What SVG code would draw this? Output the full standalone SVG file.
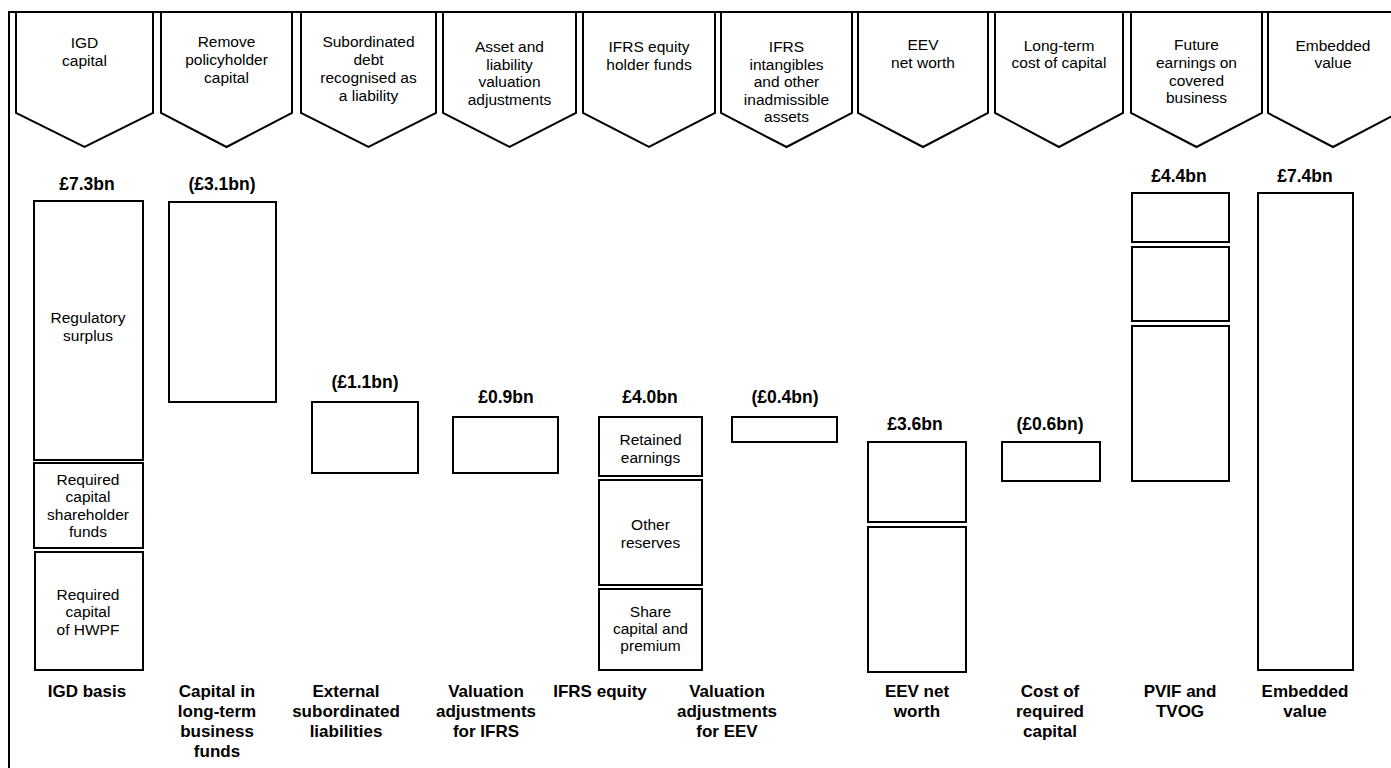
<svg xmlns="http://www.w3.org/2000/svg" width="1391" height="768" viewBox="0 0 1391 768">
<style>
.frame{fill:none;stroke:#000;stroke-width:2}
.chev{fill:#fff;stroke:#000;stroke-width:2;stroke-linejoin:miter}
.box{fill:#fff;stroke:#000;stroke-width:2}
.ct{font-family:"Liberation Sans",Arial,sans-serif;font-size:15.5px;fill:#000;text-anchor:middle}
.bt{font-family:"Liberation Sans",Arial,sans-serif;font-size:15.5px;fill:#000;text-anchor:middle}
.val{font-family:"Liberation Sans",Arial,sans-serif;font-size:17.5px;font-weight:bold;fill:#000;text-anchor:middle}
.lab{font-family:"Liberation Sans",Arial,sans-serif;font-size:17px;font-weight:bold;fill:#000;text-anchor:middle}
</style>
<rect width="1391" height="768" fill="#fff"/>
<g id="frame">
<path class="frame" d="M9,768 V12 H1391"/>
</g>
<g id="headers">
<g id="h1"><path class="chev" d="M16,12 H153 V113 L84.5,147 L16,113 Z"/>
<text class="ct" x="84.5" y="48">IGD</text><text class="ct" x="84.5" y="66">capital</text></g>
<g id="h2"><path class="chev" d="M161,12 H292 V113 L226.5,147 L161,113 Z"/>
<text class="ct" x="226.5" y="47">Remove</text><text class="ct" x="226.5" y="65">policyholder</text><text class="ct" x="226.5" y="83">capital</text></g>
<g id="h3"><path class="chev" d="M301,12 H436 V113 L368.5,147 L301,113 Z"/>
<text class="ct" x="368.5" y="47">Subordinated</text><text class="ct" x="368.5" y="65">debt</text><text class="ct" x="368.5" y="83">recognised as</text><text class="ct" x="368.5" y="101">a liability</text></g>
<g id="h4"><path class="chev" d="M443,12 H576 V113 L509.5,147 L443,113 Z"/>
<text class="ct" x="509.5" y="52">Asset and</text><text class="ct" x="509.5" y="69.5">liability</text><text class="ct" x="509.5" y="87">valuation</text><text class="ct" x="509.5" y="104.5">adjustments</text></g>
<g id="h5"><path class="chev" d="M583,12 H715 V113 L649,147 L583,113 Z"/>
<text class="ct" x="649" y="52">IFRS equity</text><text class="ct" x="649" y="69.5">holder funds</text></g>
<g id="h6"><path class="chev" d="M721,12 H852 V113 L786.5,147 L721,113 Z"/>
<text class="ct" x="786.5" y="52">IFRS</text><text class="ct" x="786.5" y="69.5">intangibles</text><text class="ct" x="786.5" y="87">and other</text><text class="ct" x="786.5" y="104.5">inadmissible</text><text class="ct" x="786.5" y="122">assets</text></g>
<g id="h7"><path class="chev" d="M858,12 H988 V113 L923,147 L858,113 Z"/>
<text class="ct" x="923" y="50">EEV</text><text class="ct" x="923" y="68">net worth</text></g>
<g id="h8"><path class="chev" d="M995,12 H1123 V113 L1059,147 L995,113 Z"/>
<text class="ct" x="1059" y="51">Long-term</text><text class="ct" x="1059" y="68">cost of capital</text></g>
<g id="h9"><path class="chev" d="M1131,12 H1262 V113 L1196.5,147 L1131,113 Z"/>
<text class="ct" x="1196.5" y="50">Future</text><text class="ct" x="1196.5" y="68">earnings on</text><text class="ct" x="1196.5" y="86">covered</text><text class="ct" x="1196.5" y="103">business</text></g>
<g id="h10"><path class="chev" d="M1268,12 H1398 V113 L1333,147 L1268,113 Z"/>
<text class="ct" x="1333" y="51">Embedded</text><text class="ct" x="1333" y="68">value</text></g>
</g>
<g id="connectors"></g>
<g id="igd">
<text class="val" x="87" y="190">£7.3bn</text>
<rect class="box" x="34" y="201" width="109" height="259"/>
<text class="bt" x="88" y="323">Regulatory</text><text class="bt" x="88" y="340.5">surplus</text>
<rect class="box" x="34" y="463" width="109" height="85"/>
<text class="bt" x="88" y="484.5">Required</text><text class="bt" x="88" y="502">capital</text><text class="bt" x="88" y="519.5">shareholder</text><text class="bt" x="88" y="537">funds</text>
<rect class="box" x="35" y="552" width="108" height="118"/>
<text class="bt" x="88" y="599.5">Required</text><text class="bt" x="88" y="617">capital</text><text class="bt" x="88" y="634.5">of HWPF</text>
<text class="lab" x="87" y="697">IGD basis</text>
</g>
<g id="ltbf">
<text class="val" x="222" y="190">(£3.1bn)</text>
<rect class="box" x="169" y="202" width="107" height="200"/>
<text class="lab" x="217" y="697">Capital in</text><text class="lab" x="217" y="717">long-term</text><text class="lab" x="217" y="737">business</text><text class="lab" x="217" y="757">funds</text>
</g>
<g id="extsub">
<text class="val" x="365" y="388">(£1.1bn)</text>
<rect class="box" x="312" y="402" width="106" height="71"/>
<text class="lab" x="346" y="697">External</text><text class="lab" x="346" y="717">subordinated</text><text class="lab" x="346" y="737">liabilities</text>
</g>
<g id="valifrs">
<text class="val" x="506" y="403">£0.9bn</text>
<rect class="box" x="453" y="417" width="105" height="56"/>
<text class="lab" x="486" y="697">Valuation</text><text class="lab" x="486" y="717">adjustments</text><text class="lab" x="486" y="737">for IFRS</text>
</g>
<g id="ifrseq">
<text class="val" x="650" y="403">£4.0bn</text>
<rect class="box" x="599" y="417" width="103" height="59"/>
<text class="bt" x="650.5" y="445">Retained</text><text class="bt" x="650.5" y="462.5">earnings</text>
<rect class="box" x="599" y="480" width="103" height="105"/>
<text class="bt" x="650.5" y="530">Other</text><text class="bt" x="650.5" y="547.5">reserves</text>
<rect class="box" x="599" y="589" width="103" height="81"/>
<text class="bt" x="650.5" y="617">Share</text><text class="bt" x="650.5" y="634">capital and</text><text class="bt" x="650.5" y="651">premium</text>
<text class="lab" x="600" y="697">IFRS equity</text>
</g>
<g id="valeev">
<text class="val" x="785" y="403">(£0.4bn)</text>
<rect class="box" x="732" y="417" width="105" height="25"/>
<text class="lab" x="727" y="697">Valuation</text><text class="lab" x="727" y="717">adjustments</text><text class="lab" x="727" y="737">for EEV</text>
</g>
<g id="eevnw">
<text class="val" x="915" y="430">£3.6bn</text>
<rect class="box" x="868" y="442" width="98" height="80"/>
<rect class="box" x="868" y="527" width="98" height="145"/>
<text class="lab" x="917" y="697">EEV net</text><text class="lab" x="917" y="717">worth</text>
</g>
<g id="costcap">
<text class="val" x="1050" y="430">(£0.6bn)</text>
<rect class="box" x="1002" y="442" width="98" height="39"/>
<text class="lab" x="1050" y="697">Cost of</text><text class="lab" x="1050" y="717">required</text><text class="lab" x="1050" y="737">capital</text>
</g>
<g id="pvif">
<text class="val" x="1179" y="182">£4.4bn</text>
<rect class="box" x="1132" y="193" width="97" height="49"/>
<rect class="box" x="1132" y="247" width="97" height="74"/>
<rect class="box" x="1132" y="326" width="97" height="155"/>
<text class="lab" x="1180" y="697">PVIF and</text><text class="lab" x="1180" y="717">TVOG</text>
</g>
<g id="ev">
<text class="val" x="1305" y="182">£7.4bn</text>
<rect class="box" x="1258" y="193" width="95" height="477"/>
<text class="lab" x="1305" y="697">Embedded</text><text class="lab" x="1305" y="717">value</text>
</g>
</svg>
